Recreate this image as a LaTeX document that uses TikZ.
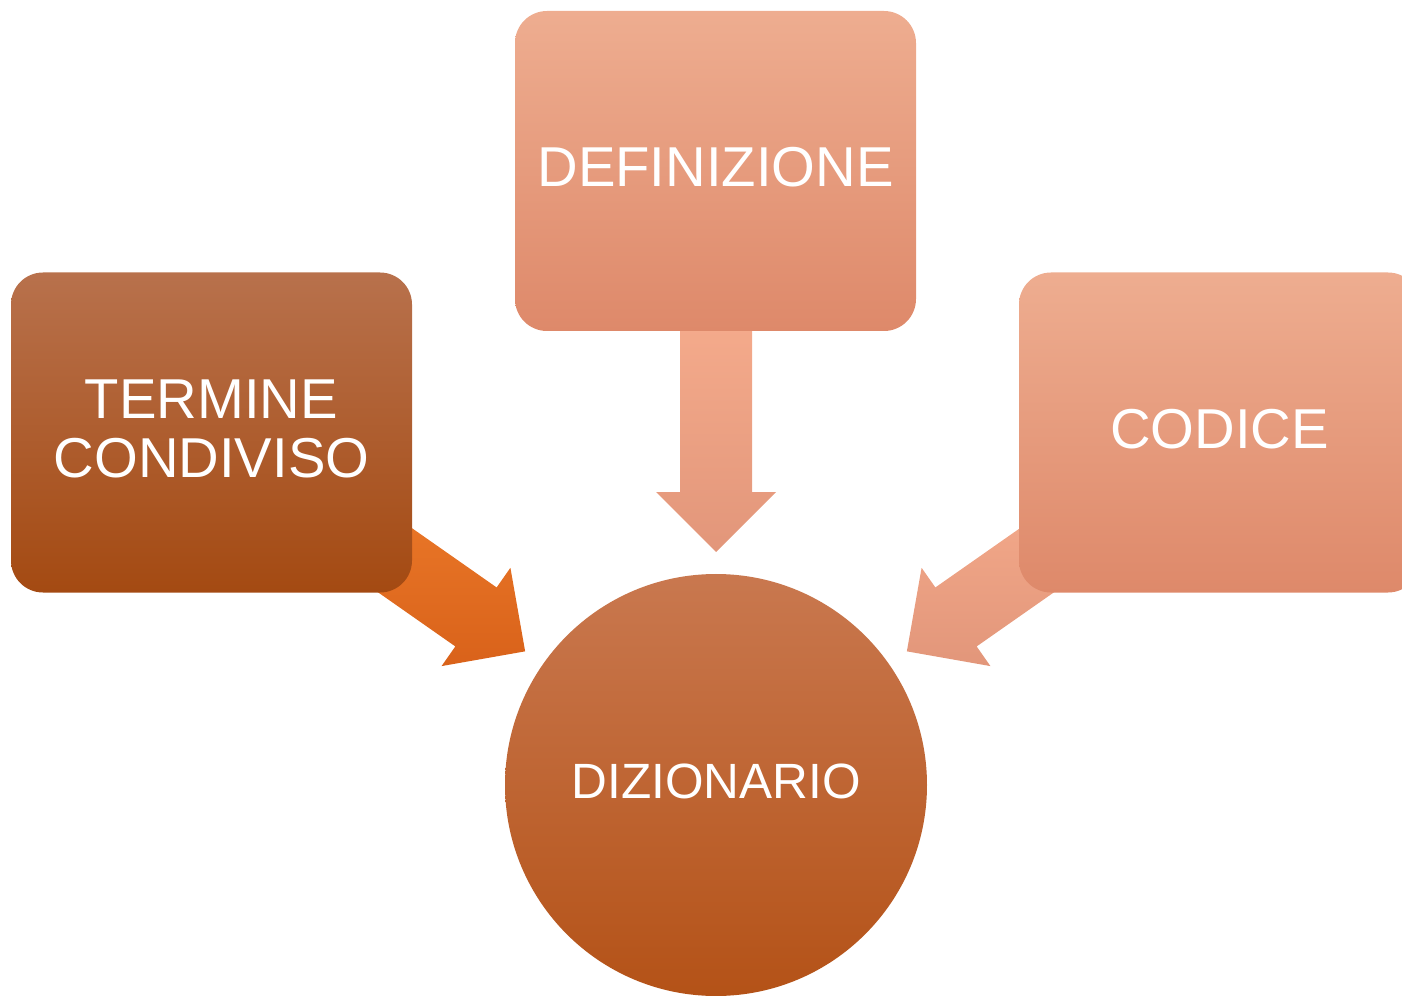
\documentclass[tikz,border=0pt]{standalone}
\usepackage{fontspec}
\setmainfont{Liberation Sans}
\usepackage{tikz}
\definecolor{termtop}{HTML}{B8714C}
\definecolor{termbot}{HTML}{A44A12}
\definecolor{pinktop}{HTML}{EEAD90}
\definecolor{pinkbot}{HTML}{DE896A}
\definecolor{arrtop}{HTML}{F5AB8C}
\definecolor{arrbot}{HTML}{E2967A}
\definecolor{orgtop}{HTML}{EC7A2A}
\definecolor{orgbot}{HTML}{D9621A}
\definecolor{dicttop}{HTML}{C9784F}
\definecolor{dictbot}{HTML}{B45217}
\tikzstyle{labeltext} = [text=white, font=\fontsize{16}{16.8}\selectfont,
    align=center, text depth=0.08cm, inner sep=0pt]
\tikzstyle{conceptbox} = [labeltext, rectangle, rounded corners=0.32cm,
    minimum width=4.01cm, minimum height=3.20cm]
\tikzstyle{dictcircle} = [labeltext, circle, minimum size=4.22cm,
    font=\fontsize{14.1}{15}\selectfont, text depth=0.07cm,
    top color=dicttop, bottom color=dictbot]

\begin{document}
\begin{tikzpicture}
                \useasboundingbox (0,0) rectangle (14.02,9.95);
                \coordinate (centre) at (7.16,2.10);
                % block arrows pointing at the dictionary
                \foreach \ang/\ctop/\cbot in {0/arrtop/arrbot, 55/orgtop/orgbot, -55/arrtop/arrbot}{
                    \begin{scope}[shift={(centre)}, rotate=\ang]
                        \coordinate (tip) at (0,2.33);
                        \coordinate (barbR) at (0.60,2.93);
                        \coordinate (neckR) at (0.36,2.93);
                        \coordinate (tailR) at (0.36,4.70);
                        \coordinate (tailL) at (-0.36,4.70);
                        \coordinate (neckL) at (-0.36,2.93);
                        \coordinate (barbL) at (-0.60,2.93);
                    \end{scope}
                    \shade[top color=\ctop, bottom color=\cbot] (tip) -- (barbR) -- (neckR) -- (tailR)
                        -- (tailL) -- (neckL) -- (barbL) -- cycle;
                }
                \node [conceptbox, top color=pinktop, bottom color=pinkbot] (definizione) at (7.155,8.24) {DEFINIZIONE};
                \node [conceptbox, top color=termtop, bottom color=termbot] (termine) at (2.115,5.625) {TERMINE\\CONDIVISO};
                \node [conceptbox, top color=pinktop, bottom color=pinkbot] (codice) at (12.195,5.625) {CODICE};
                \node [dictcircle] (dizionario) at (centre) {DIZIONARIO};
            \end{tikzpicture}
\end{document}
